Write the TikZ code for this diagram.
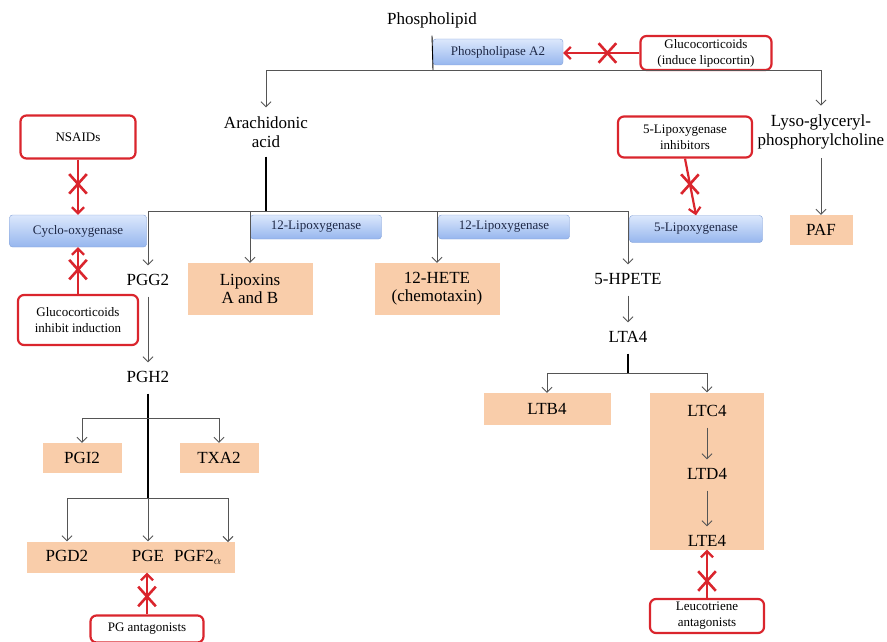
\documentclass[tikz,border=0pt]{standalone}
\usepackage{fontspec}
\setmainfont{Liberation Serif}
\usetikzlibrary{arrows.meta,shapes.misc}
\definecolor{enzline}{RGB}{130,160,215}
\definecolor{enztop}{RGB}{220,232,252}
\definecolor{enzbot}{RGB}{150,182,238}
\definecolor{enztext}{RGB}{30,40,70}
\definecolor{peach}{RGB}{249,205,170}
\definecolor{stopred}{RGB}{218,37,45}
\definecolor{linegray}{RGB}{85,85,85}

\begin{document}
\begin{tikzpicture}[
          x=1pt, y=-1pt,
          every node/.style={font=\fontsize{17}{19}\selectfont, align=center},
          lbl/.style={inner sep=8pt, text height=12pt, text depth=3pt},
          lbl2/.style={inner sep=9pt},
          enz/.style={draw=enzline, rounded corners=3pt, top color=enztop, bottom color=enzbot, text=enztext,
            font=\fontsize{13}{15}\selectfont, minimum width=131pt, minimum height=24pt, inner sep=0pt},
          prod/.style={fill=peach, inner sep=0pt, font=\fontsize{17}{18}\selectfont},
          drug/.style={draw=stopred, line width=2.2pt, rounded corners=6pt, fill=white,
            font=\fontsize{13}{16}\selectfont, inner sep=0pt},
          link/.style={draw=linegray, line width=0.9pt, -{Straight Barb[length=5pt,width=10pt]}},
          stem/.style={draw=black, line width=1.6pt},
          block/.style={draw=stopred, line width=2.2pt, -{Straight Barb[length=6pt,width=12pt]}},
          nogo/.style={cross out, draw=stopred, line width=2.6pt, minimum width=15pt, minimum height=17pt, inner sep=0pt}
        ]
        \useasboundingbox (0,0) rectangle (887,642);

        \node[lbl] (phospho) at (432,20) {Phospholipid};
        \node[enz, minimum width=130pt, minimum height=26pt] (pla2) at (498,52) {Phospholipase A2};
        \node[drug, minimum width=131pt, minimum height=34pt] (gluco1) at (706,53) {Glucocorticoids\\(induce lipocortin)};
        \node[lbl2] (arach) at (266,132) {Arachidonic\\acid};
        \node[lbl2] (lyso) at (821,132) {Lyso-glyceryl-\\phosphorylcholine};

        \node[drug, minimum width=115pt, minimum height=43pt] (nsaid) at (78,137) {NSAIDs};
        \node[enz, minimum width=137pt, minimum height=32pt] (cox) at (78,231) {Cyclo-oxygenase};
        \node[drug, minimum width=120pt, minimum height=50pt] (gluco2) at (78,320) {Glucocorticoids\\inhibit induction};
        \node[enz] (lox12a) at (316,227) {12-Lipoxygenase};
        \node[enz] (lox12b) at (504,227) {12-Lipoxygenase};
        \node[drug, minimum width=134pt, minimum height=41pt] (inh5) at (685,137) {5-Lipoxygenase\\inhibitors};
        \node[enz, minimum width=133pt, minimum height=27pt] (lox5) at (696,229) {5-Lipoxygenase};

        \node[prod, minimum width=125pt, minimum height=52pt] (lipox) at (250,289) {Lipoxins\\A and B};
        \node[prod, minimum width=125pt, minimum height=52pt] (hete) at (437,289) {12-HETE\\(chemotaxin)};
        \node[prod, minimum width=63pt, minimum height=30pt] (paf) at (821,230) {PAF};

        \node[lbl] (pgg2) at (148,281) {PGG2};
        \node[lbl] (pgh2) at (148,378) {PGH2};
        \node[prod, minimum width=79pt, minimum height=30pt] (pgi2) at (82,458) {PGI2};
        \node[prod, minimum width=79pt, minimum height=30pt] (txa2) at (219,458) {TXA2};
        \node[prod, minimum width=208pt, minimum height=31pt] (pgbox) at (131,557) {};
        \node[lbl] (pgd2) at (67,557) {PGD2};
        \node[lbl] (pge) at (148,557) {PGE};
        \node[lbl] (pgf2a) at (198,557) {PGF2$_\alpha$};
        \node[drug, minimum width=113pt, minimum height=27pt] (pgant) at (147,629) {PG antagonists};

        \node[lbl] (hpete) at (628,280) {5-HPETE};
        \node[lbl] (lta4) at (628,338) {LTA4};
        \node[prod, minimum width=127pt, minimum height=32pt] (ltb4) at (547,409) {LTB4};
        \node[prod, minimum width=114pt, minimum height=157pt] (ltc) at (707,471) {};
        \node[lbl] (ltc4) at (707,412) {LTC4};
        \node[lbl] (ltd4) at (707,475) {LTD4};
        \node[lbl] (lte4) at (707,542) {LTE4};
        \node[drug, minimum width=114pt, minimum height=34pt] (leuk) at (707,616) {Leucotriene\\antagonists};

        \coordinate (top) at (433,70);
        \coordinate (fork) at (266,211);
        \coordinate (pgsplit) at (148,418);
        \coordinate (pgsplit2) at (148,498);
        \coordinate (pgfend) at (228,542);
        \coordinate (ltsplit) at (628,373);

        \draw[draw=black, line width=0.9pt] (phospho.south) -- (top);
        \draw[link] (top) -| (arach.north);
        \draw[link] (top) -| (lyso.north);
        \draw[link] (lyso.south) -- (paf.north);
        \draw[stem] (arach.south) -- (fork);
        \draw[link] (fork) -| (pgg2.north);
        \draw[link] (fork) -| (lipox.north);
        \draw[link] (fork) -| (hete.north);
        \draw[link] (fork) -| (hpete.north);

        \draw[link] (pgg2) -- (pgh2);
        \draw[stem] (pgh2.south) -- (pgsplit2);
        \draw[link] (pgsplit) -| (pgi2.north);
        \draw[link] (pgsplit) -| (txa2.north);
        \draw[link] (pgsplit2) -- (pge |- pgbox.north);
        \draw[link] (pgsplit2) -| (pgd2 |- pgbox.north);
        \draw[link] (pgsplit2) -| (pgfend);

        \draw[link] (hpete) -- (lta4);
        \draw[stem] (lta4.south) -- (ltsplit);
        \draw[link] (ltsplit) -| (ltb4.north);
        \draw[link] (ltsplit) -| (ltc.north);
        \draw[link] (ltc4) -- (ltd4);
        \draw[link] (ltd4) -- (lte4);

        \draw[block] (gluco1.west) -- node[nogo, pos=0.42] {} (gluco1.west -| pla2.east);
        \draw[block] (nsaid) -- node[nogo, pos=0.44] {} (cox);
        \draw[block] (gluco2) -- node[nogo, pos=0.52] {} (cox);
        \draw[block] (inh5.south) -- node[nogo, pos=0.45] {} (lox5.north);
        \draw[block] (pgant.north) -- node[nogo, pos=0.43] {} (pgant.north |- pgbox.south);
        \draw[block] (leuk) -- node[nogo, pos=0.35] {} (ltc);
        \end{tikzpicture}
\end{document}
